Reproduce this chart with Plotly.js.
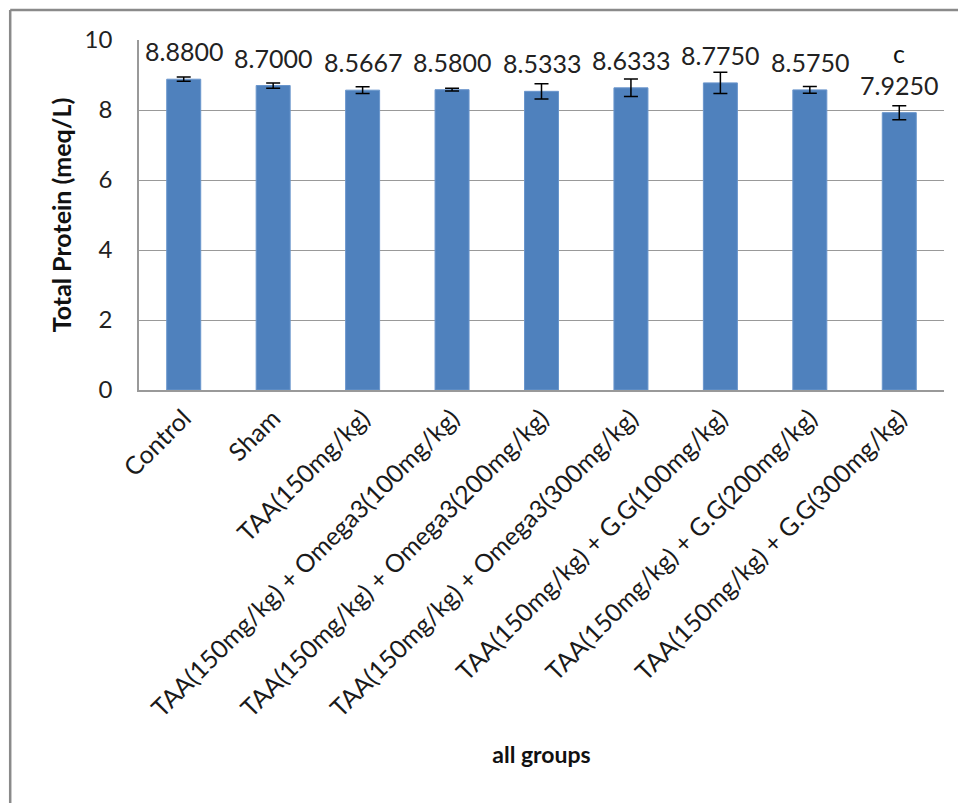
<!DOCTYPE html>
<html>
<head>
<meta charset="utf-8">
<script src="https://cdn.plot.ly/plotly-3.0.1.min.js"></script>
<style>html,body{margin:0;padding:0;background:#fff;}#chart{width:958px;height:803px;}</style>
</head>
<body>
<div id="chart"></div>
<script>
const categories = [
  "Control",
  "Sham",
  "TAA(150mg/kg)",
  "TAA(150mg/kg) + Omega3(100mg/kg)",
  "TAA(150mg/kg) + Omega3(200mg/kg)",
  "TAA(150mg/kg) + Omega3(300mg/kg)",
  "TAA(150mg/kg) + G.G(100mg/kg)",
  "TAA(150mg/kg) + G.G(200mg/kg)",
  "TAA(150mg/kg) + G.G(300mg/kg)"
];
const values = [8.88, 8.70, 8.5667, 8.58, 8.5333, 8.6333, 8.775, 8.575, 7.925];
const errors = [0.06, 0.075, 0.095, 0.04, 0.22, 0.25, 0.30, 0.095, 0.20];
const valueLabels = ["8.8800", "8.7000", "8.5667", "8.5800", "8.5333", "8.6333", "8.7750", "8.5750", "7.9250"];
const sigLetters = ["", "", "", "", "", "", "", "", "c"];
const yTicks = [0, 2, 4, 6, 8, 10];

const FONT = "Lato, 'Open Sans', sans-serif";

const trace = {
  type: "bar",
  x: categories,
  y: values,
  marker: {color: "#4F81BD", line: {color: "#6a96cc", width: 1}},
  error_y: {type: "data", array: errors, visible: true, color: "#000", thickness: 1.5, width: 7},
  hoverinfo: "x+y"
};

const annotations = [];
categories.forEach((c, i) => {
  annotations.push({
    x: c, y: values[i], xref: "x", yref: "y",
    text: valueLabels[i], showarrow: false,
    yanchor: "middle", yshift: 28,
    font: {family: FONT, size: 25, color: "#222"}
  });
  if (sigLetters[i]) {
    annotations.push({
      x: c, y: values[i], xref: "x", yref: "y",
      text: sigLetters[i], showarrow: false,
      yanchor: "middle", yshift: 60,
      font: {family: FONT, size: 25, color: "#111"}
    });
  }
});

const layout = {
  width: 958, height: 803,
  margin: {l: 139, r: 14, t: 40, b: 413},
  paper_bgcolor: "#fff", plot_bgcolor: "#fff",
  bargap: 0.62,
  showlegend: false,
  xaxis: {
    type: "category",
    tickangle: -45,
    tickfont: {family: FONT, size: 25, color: "#1a1a1a"},
    ticklabelstandoff: 2,
    showline: true, linecolor: "#999", linewidth: 1.5,
    ticks: "", showgrid: false,
    title: {text: "<b>all groups</b>", font: {family: FONT, size: 23, color: "#111"}, standoff: 26},
    automargin: false
  },
  yaxis: {
    range: [0, 10],
    tickvals: yTicks,
    ticktext: yTicks.map(String),
    tickfont: {family: FONT, size: 24, color: "#222"},
    ticklabelstandoff: 20,
    showline: true, linecolor: "#999", linewidth: 1.5,
    showgrid: true, gridcolor: "#999", gridwidth: 1.2,
    zeroline: false, ticks: "",
    title: {text: "<b>Total Protein (meq/L)</b>", font: {family: FONT, size: 25, color: "#111"}, standoff: 6},
    automargin: false
  },
  annotations: annotations,
  shapes: [
    {type: "line", xref: "paper", yref: "paper", x0: -0.160, x1: -0.160, y0: 1.0857, y1: -1.3, line: {color: "#8a8a8a", width: 2.5}},
    {type: "line", xref: "paper", yref: "paper", x0: -0.160, x1: 1.03, y0: 1.0857, y1: 1.0857, line: {color: "#8a8a8a", width: 2.5}}
  ]
};

Plotly.newPlot("chart", [trace], layout, {displayModeBar: false, responsive: false});
</script>
</body>
</html>
